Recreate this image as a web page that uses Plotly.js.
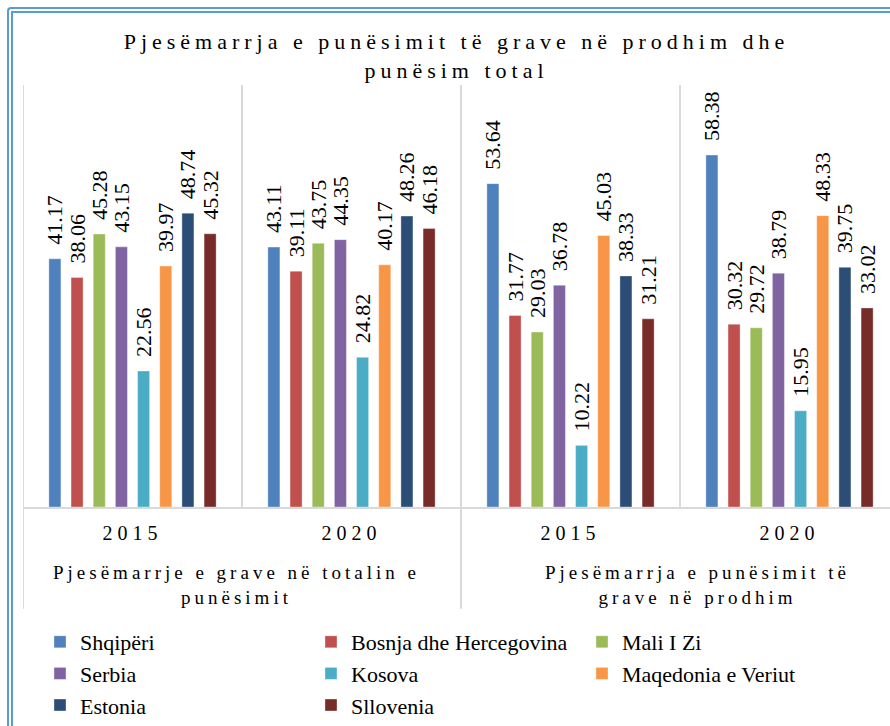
<!DOCTYPE html>
<html>
<head>
<meta charset="utf-8">
<script src="https://cdn.plot.ly/plotly-3.0.1.min.js"></script>
<style>
  html, body { margin: 0; padding: 0; background: #fff; overflow: hidden; }
  #chart { width: 890px; height: 726px; position: relative; }
  #frame { position: absolute; left: 7px; top: 7px; width: 2000px; height: 2000px;
           border-left: 6px double #5b9bd5; border-top: 6px double #5b9bd5;
           border-top-left-radius: 4px; pointer-events: none; z-index: 5; }
  .main-svg text { font-family: "Liberation Serif", "Times New Roman", serif !important; }
  .gtitle { letter-spacing: 5px; }
  .xtick text { letter-spacing: 5px; }
  .annotation-text { letter-spacing: 4px; }
</style>
</head>
<body>
<div id="chart"></div>
<div id="frame"></div>
<script>
// ---- data ----
const years = ['2015', '2020', '2015', '2020'];
const groups = ['Pjesëmarrje e grave në totalin e<br>punësimit', 'Pjesëmarrja e punësimit të<br>grave në prodhim'];
const countries = ['Shqipëri', 'Bosnja dhe Hercegovina', 'Mali I Zi', 'Serbia', 'Kosova', 'Maqedonia e Veriut', 'Estonia', 'Sllovenia'];
const shqiperi   = [41.17, 43.11, 53.64, 58.38];
const bosnja     = [38.06, 39.11, 31.77, 30.32];
const maliIZi    = [45.28, 43.75, 29.03, 29.72];
const serbia     = [43.15, 44.35, 36.78, 38.79];
const kosova     = [22.56, 24.82, 10.22, 15.95];
const maqedonia  = [39.97, 40.17, 45.03, 48.33];
const estonia    = [48.74, 48.26, 38.33, 39.75];
const sllovenia  = [45.32, 46.18, 31.21, 33.02];
const seriesValues = [shqiperi, bosnja, maliIZi, serbia, kosova, maqedonia, estonia, sllovenia];
const colors = ['#4f81bd', '#c0504d', '#9bbb59', '#8064a2', '#4bacc6', '#f79646', '#2c4d75', '#772c2a'];

const xIdx = years.map((_, i) => i);
const serif = 'Liberation Serif';

const traces = countries.map((name, k) => ({
  type: 'bar',
  name: name,
  x: xIdx,
  y: seriesValues[k],
  marker: { color: colors[k], line: { color: 'rgba(255,255,255,0.35)', width: 1 } },
  texttemplate: '\u00a0\u00a0%{y:.2f}',
  textposition: 'outside',
  textangle: -90,
  constraintext: 'none',
  cliponaxis: false,
  textfont: { family: serif, size: 22, color: '#000' },
  hoverinfo: 'skip'
}));

const plotBottom = 508, plotTop = 85, H = 726;
const plotH = plotBottom - plotTop;
const shapes = [];
for (let i = 0; i <= years.length; i++) {
  shapes.push({ type: 'line', xref: 'x', yref: 'paper', x0: i - 0.5, x1: i - 0.5, y0: 0, y1: 1,
                line: { color: '#d9d9d9', width: 2 }, layer: 'below' });
}
for (let g = 0; g <= groups.length; g++) {
  const xb = g * 2 - 0.5;
  shapes.push({ type: 'line', xref: 'x', yref: 'paper', x0: xb, x1: xb, y0: 0, y1: -(610 - plotBottom) / plotH,
                line: { color: '#d9d9d9', width: 2 } });
}

const groupShift = [-6, 17];
const annotations = groups.map((g, j) => ({
  xref: 'x', yref: 'paper', x: j * 2 + 0.5, y: -(586 - plotBottom) / plotH,
  xanchor: 'center', yanchor: 'middle', align: 'center', showarrow: false,
  xshift: groupShift[j],
  text: g, font: { family: serif, size: 19, color: '#000' }
}));

const layout = {
  width: 890, height: 726,
  margin: { l: 23, r: 0, t: plotTop, b: H - plotBottom },
  paper_bgcolor: '#fff', plot_bgcolor: '#fff',
  title: { text: 'Pjesëmarrja e punësimit të grave në prodhim dhe<br>punësim total',
           x: 0.5, xref: 'paper', xanchor: 'center', y: 1 - 49 / H, yref: 'container', yanchor: 'top',
           font: { family: serif, size: 22, color: '#000' } },
  barmode: 'group', bargap: 0.19, bargroupgap: 0.457,
  xaxis: { range: [-0.5, -0.5 + 4 * 867 / 876], tickvals: xIdx, ticktext: years, showgrid: false, zeroline: false,
           showline: true, linecolor: '#d9d9d9', linewidth: 2, ticks: '', ticklabelstandoff: 7,
           tickfont: { family: serif, size: 20, color: '#000' }, fixedrange: true },
  yaxis: { range: [0, 70], visible: false, fixedrange: true },
  showlegend: true,
  legend: { orientation: 'h', x: (40 - 23) / 867, xanchor: 'left', y: -(622 - plotBottom) / plotH, yanchor: 'top',
            font: { family: serif, size: 22, color: '#000' }, entrywidth: 226, entrywidthmode: 'pixels',
            traceorder: 'normal', itemclick: false, itemdoubleclick: false },
  shapes: shapes,
  annotations: annotations
};

Plotly.newPlot('chart', traces, layout, { displayModeBar: false, staticPlot: true });
</script>
</body>
</html>
